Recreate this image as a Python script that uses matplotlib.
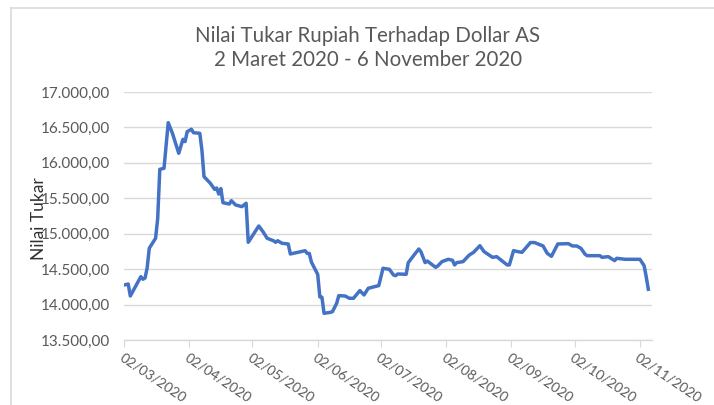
import matplotlib
matplotlib.use("Agg")
import matplotlib.pyplot as plt
import matplotlib.dates as mdates
import matplotlib.ticker as mticker
from matplotlib.lines import Line2D
import pandas as pd

plt.rcParams['font.family'] = ['Lato', 'DejaVu Sans']

title = "Nilai Tukar Rupiah Terhadap Dollar AS\n2 Maret 2020 - 6 November 2020"
ylabel = "Nilai Tukar"

dates = [
    "2020-03-02", "2020-03-04", "2020-03-05", "2020-03-10", "2020-03-11", "2020-03-12",
    "2020-03-13", "2020-03-14", "2020-03-17", "2020-03-18", "2020-03-19", "2020-03-21",
    "2020-03-23", "2020-03-25", "2020-03-28", "2020-03-30", "2020-03-31", "2020-04-01",
    "2020-04-03", "2020-04-04", "2020-04-07", "2020-04-08", "2020-04-09", "2020-04-12",
    "2020-04-14", "2020-04-15", "2020-04-16", "2020-04-17", "2020-04-18", "2020-04-21",
    "2020-04-22", "2020-04-24", "2020-04-27", "2020-04-29", "2020-04-30", "2020-05-05",
    "2020-05-07", "2020-05-09", "2020-05-12", "2020-05-13", "2020-05-14", "2020-05-16",
    "2020-05-19", "2020-05-20", "2020-05-27", "2020-05-28", "2020-05-29", "2020-05-30",
    "2020-06-02", "2020-06-03", "2020-06-04", "2020-06-05", "2020-06-08", "2020-06-09",
    "2020-06-11", "2020-06-12", "2020-06-15", "2020-06-17", "2020-06-19", "2020-06-22",
    "2020-06-24", "2020-06-26", "2020-07-01", "2020-07-03", "2020-07-06", "2020-07-08",
    "2020-07-09", "2020-07-10", "2020-07-14", "2020-07-15", "2020-07-18", "2020-07-20",
    "2020-07-21", "2020-07-23", "2020-07-24", "2020-07-28", "2020-07-29", "2020-07-31",
    "2020-08-03", "2020-08-05", "2020-08-06", "2020-08-07", "2020-08-10", "2020-08-13",
    "2020-08-15", "2020-08-18", "2020-08-20", "2020-08-24", "2020-08-26", "2020-08-31",
    "2020-09-01", "2020-09-03", "2020-09-05", "2020-09-07", "2020-09-11", "2020-09-13",
    "2020-09-17", "2020-09-19", "2020-09-21", "2020-09-24", "2020-09-29", "2020-10-01",
    "2020-10-03", "2020-10-05", "2020-10-07", "2020-10-08", "2020-10-14", "2020-10-15",
    "2020-10-18", "2020-10-21", "2020-10-22", "2020-10-26", "2020-11-02", "2020-11-04",
    "2020-11-05", "2020-11-06",
]

rates = [
    14276, 14290, 14121, 14394, 14357, 14376,
    14517, 14795, 14936, 15215, 15909, 15923,
    16567, 16417, 16135, 16333, 16300, 16440,
    16474, 16426, 16417, 16180, 15805, 15712,
    15627, 15645, 15560, 15637, 15438, 15419,
    15466, 15406, 15382, 15430, 14879, 15109,
    15029, 14935, 14901, 14879, 14901, 14865,
    14855, 14714, 14760, 14722, 14722, 14600,
    14425, 14108, 14103, 13877, 13890, 13900,
    14018, 14126, 14121, 14089, 14089, 14197,
    14136, 14230, 14268, 14512, 14498, 14417,
    14408, 14432, 14427, 14592, 14709, 14784,
    14747, 14592, 14615, 14526, 14545, 14606,
    14639, 14625, 14559, 14592, 14606, 14700,
    14737, 14831, 14747, 14667, 14676, 14559,
    14559, 14761, 14747, 14737, 14875, 14875,
    14827, 14723, 14681, 14855, 14860, 14827,
    14827, 14794, 14709, 14690, 14690, 14667,
    14676, 14620, 14653, 14639, 14639, 14550,
    14394, 14216,
]

tick_dates = ["2020-03-02", "2020-04-02", "2020-05-02", "2020-06-02", "2020-07-02",
              "2020-08-02", "2020-09-02", "2020-10-02", "2020-11-02"]
y_ticks = [13500, 14000, 14500, 15000, 15500, 16000, 16500, 17000]

x = pd.to_datetime(dates)
xt = pd.to_datetime(tick_dates)

fig = plt.figure(figsize=(7.14, 4.05), dpi=100)
ax = fig.add_axes([124/714, 1-340/405, (652-124)/714, (340-92)/405])

ax.plot(x, rates, color="#4472C4", lw=2.5, solid_joinstyle="round", zorder=3)

ax.set_ylim(13500, 17000)
ax.set_xlim(pd.Timestamp("2020-03-02"), pd.Timestamp("2020-11-07 18:00"))
ax.set_yticks(y_ticks)
ax.yaxis.set_major_formatter(mticker.FuncFormatter(
    lambda v, p: f"{v:,.2f}".replace(",", "X").replace(".", ",").replace("X", ".")))
ax.set_xticks(xt)
ax.xaxis.set_major_formatter(mdates.DateFormatter("%d/%m/%Y"))

ax.grid(axis="y", color="#d9d9d9", lw=1.0)
ax.set_axisbelow(True)
for s in ["left", "right", "top"]:
    ax.spines[s].set_visible(False)
ax.spines["bottom"].set_color("#d9d9d9")
ax.spines["bottom"].set_linewidth(1.0)

ax.tick_params(axis="y", length=0, labelsize=11, labelcolor="#595959", pad=10)
ax.tick_params(axis="x", length=5, color="#d9d9d9", labelsize=10,
               labelcolor="#595959", pad=3)
for lab in ax.get_xticklabels():
    lab.set_rotation(-34)
    lab.set_ha("left")
    lab.set_va("top")
    lab.set_rotation_mode("anchor")

ax.set_ylabel(ylabel, fontsize=12.5, color="#303030")
ax.yaxis.set_label_coords(-0.146, 0.49)

fig.text(368/714, 1-48/405, title, ha="center", va="center", fontsize=14.8,
         color="#595959", linespacing=1.3)

# chart area border
fig.add_artist(Line2D([11/714, 1.0], [1-8/405, 1-8/405], color="#d9d9d9", lw=1.2,
                      transform=fig.transFigure))
fig.add_artist(Line2D([11/714, 11/714], [1-8/405, 0.0], color="#d9d9d9", lw=1.2,
                      transform=fig.transFigure))

fig.savefig("out.png", dpi=100)
